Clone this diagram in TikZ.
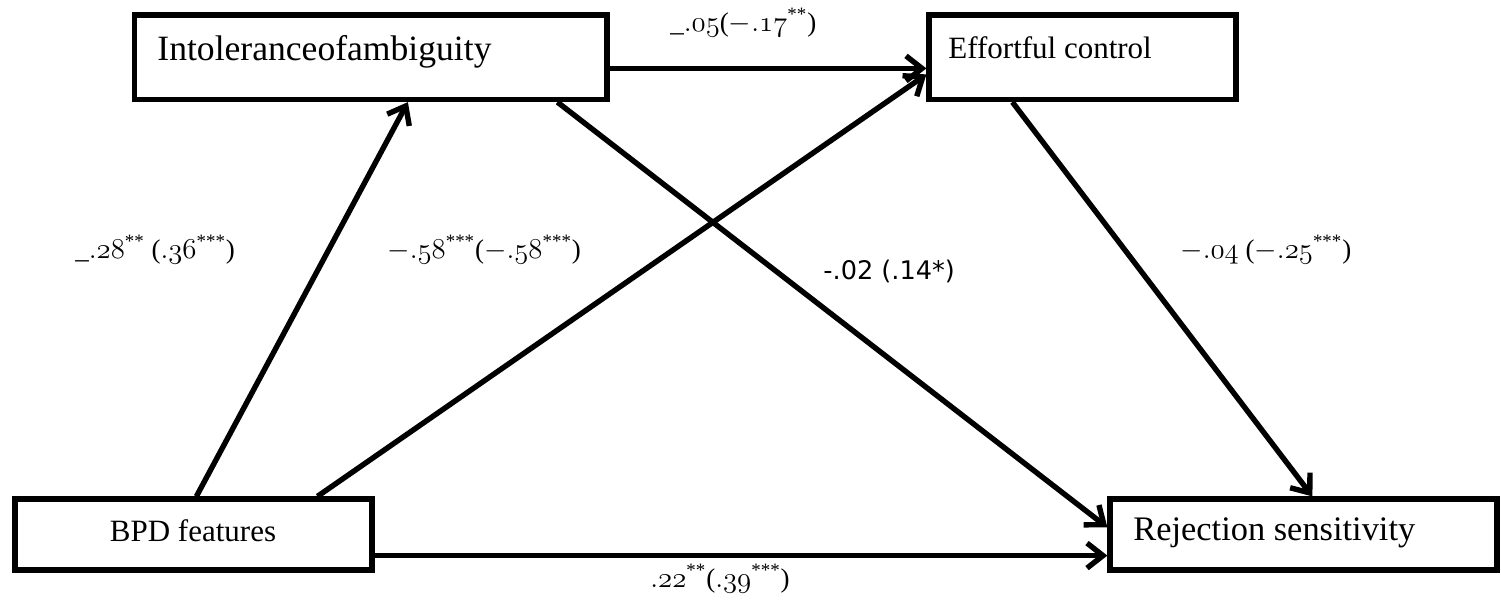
\documentclass[tikz,border=0pt]{standalone}
\usepackage{fontspec}
\setmainfont{Liberation Serif}
\newfontfamily\tahoma{DejaVu Sans}
\usetikzlibrary{arrows.meta}
\newcommand{\on}[1]{\ensuremath{\mathnormal{#1}}}
\newcommand{\sstar}[1]{\textsuperscript{#1}}
\begin{document}
\begin{tikzpicture}[x=0.5pt,y=-0.5pt,
  box/.style={draw, line width=2.6pt, inner sep=0pt},
  boxtext/.style={inner sep=0pt, anchor=base west},
  lab/.style={inner sep=0pt, anchor=base west, font=\fontsize{13.5}{16}\selectfont},
  arr/.style={line width=2.7pt, -{Straight Barb[length=8pt,width=12.5pt]}}]
\useasboundingbox (0,0) rectangle (1501,600);
% boxes
\node[box, minimum width=236.25pt, minimum height=42.25pt] (ioa) at (370.75,57.25) {};
\node[box, minimum width=153.5pt, minimum height=42.25pt] (ec) at (1082.5,57.25) {};
\node[box, minimum width=178.5pt, minimum height=35.5pt] (bpd) at (193.5,534.5) {};
\node[box, minimum width=193.5pt, minimum height=35.5pt] (rs) at (1303.5,534.5) {};
% box texts
\node[boxtext, font=\fontsize{17.8}{20}\selectfont] (tioa) at (157,60) {Intoleranceofambiguity};
\node[boxtext, font=\fontsize{15.5}{18}\selectfont] (tec) at (948,58) {Effortful control};
\node[boxtext, font=\fontsize{17.2}{20}\selectfont] (trs) at (1133,540) {Rejection sensitivity};
\node[inner sep=0pt, anchor=base, font=\fontsize{15.5}{18}\selectfont] (tbpd) at (193,541) {BPD features};
% arrows
\draw[arr] ([xshift=92pt]bpd.north west) -- ([xshift=138pt]ioa.south west);
\draw[arr] ([xshift=152.5pt]bpd.north west) -- ([yshift=-31pt]ec.north west);
\draw[arr] ([yshift=-28pt]ioa.north east) -- ([yshift=-28pt]ec.north west);
\draw[arr] ([xshift=212.75pt]ioa.south west) -- ([yshift=-15.5pt]rs.north west);
\draw[arr] ([xshift=43pt]ec.south west) -- ([xshift=102.5pt]rs.north west);
\draw[arr] ([yshift=8.5pt]bpd.south east) -- ([yshift=8.5pt]rs.south west);
% labels
\node[lab] (l1) at (670,31) {\_\on{.05}(\on{-.17}\sstar{**})};
\node[lab] (l2) at (75,258) {\_\on{.28}\sstar{**} (\on{.36}\sstar{***})};
\node[lab] (l3) at (387,258) {\on{-.58}\sstar{***}(\on{-.58}\sstar{***})};
\node[lab, font=\tahoma\fontsize{12.8}{15}\selectfont] (l4) at (823,279) {-.02 (.14*)};
\node[lab] (l5) at (1180,258) {\on{-.04} (\on{-.25}\sstar{***})};
\node[lab] (l6) at (650,587) {\on{.22}\sstar{**}(\on{.39}\sstar{***})};
\end{tikzpicture}
\end{document}
